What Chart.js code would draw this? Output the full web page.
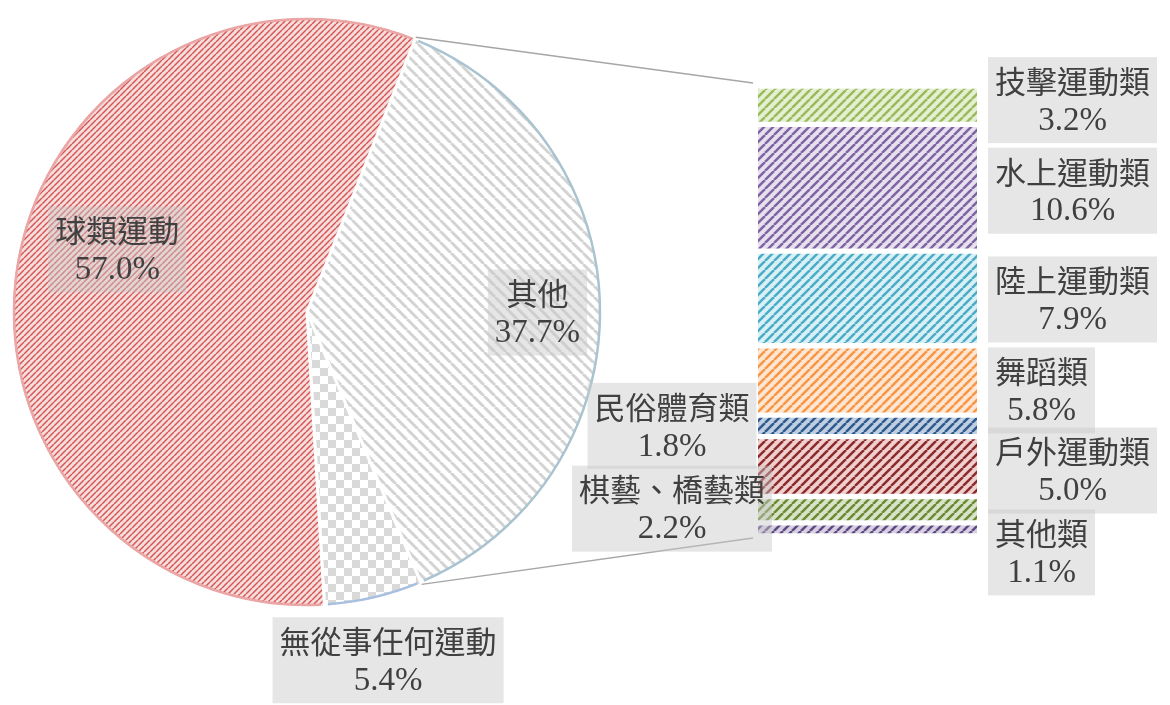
<!DOCTYPE html>
<html>
<head>
<meta charset="utf-8">
<script src="https://cdn.jsdelivr.net/npm/chart.js@4"></script>
<style>
  body { margin: 0; background: #fff; }
  #wrap { position: relative; width: 1170px; height: 705px; }
  #wrap canvas { position: absolute; left: 0; top: 0; }
</style>
</head>
<body>
<div id="wrap">
  <canvas id="pieChart" width="1170" height="705"></canvas>
  <canvas id="barChart" width="1170" height="705"></canvas>
</div>
<script>
// pie: main categories (其他 is split out into the bar)
const sliceLabels = ['其他', '無從事任何運動', '球類運動'];
const sliceValues = [37.7, 5.4, 57.0];

// bar: breakdown of 其他, top to bottom
const barLabels = ['技擊運動類', '水上運動類', '陸上運動類', '舞蹈類', '民俗體育類', '戶外運動類', '棋藝、橋藝類', '其他類'];
const barValues = [3.2, 10.6, 7.9, 5.8, 1.8, 5.0, 2.2, 1.1];

const barLabelSide = ['right', 'right', 'right', 'right', 'left', 'right', 'left', 'right'];
const barLabelShift = [-5, 3, 1, 10, 0, 4, -1, 23];
const pieLabelDist = [0.78, 1.21, 0.65];
const pieLabelShift = [3, 0, -32];

const textColor = '#404040';
const nameFont = '31px "Noto Sans CJK TC", "Noto Sans"';
const pctFont = '33px "Liberation Serif", "Noto Sans CJK TC"';

function stripes(bg, fg, size, w, down) {
    const c = document.createElement('canvas');
    c.width = c.height = size;
    const g = c.getContext('2d');
    g.fillStyle = bg;
    g.fillRect(0, 0, size, size);
    g.strokeStyle = fg;
    g.lineWidth = w;
    g.beginPath();
    for (const o of [-size, 0, size]) {
        if (down) { g.moveTo(o, 0); g.lineTo(o + size, size); }
        else { g.moveTo(o, size); g.lineTo(o + size, 0); }
    }
    g.stroke();
    return g.createPattern(c, 'repeat');
}

function checker(a, b, s) {
    const c = document.createElement('canvas');
    c.width = c.height = s * 2;
    const g = c.getContext('2d');
    g.fillStyle = b;
    g.fillRect(0, 0, s * 2, s * 2);
    g.fillStyle = a;
    g.fillRect(0, 0, s, s);
    g.fillRect(s, s, s, s);
    return g.createPattern(c, 'repeat');
}

const sliceFill = [
    stripes('#ffffff', '#d3d3d3', 11, 3, true),
    checker('#d9d9d9', '#ffffff', 8),
    stripes('#f6dedd', '#d55856', 6, 1.5, false)
];
const sliceEdge = ['#a9c3d0', '#a7bfe0', '#eaa5a4'];

const barFill = [
    stripes('#e4efd4', '#9bbb59', 9, 2.5, false),
    stripes('#e6e0ef', '#8064a2', 9, 2.5, false),
    stripes('#d9f0f6', '#4bacc6', 9, 2.5, false),
    stripes('#fee6d2', '#f79646', 9, 2.5, false),
    stripes('#bfcee2', '#2f5b8c', 9, 2.5, false),
    stripes('#efd0cf', '#8c2b2a', 9, 2.5, false),
    stripes('#d9e3c9', '#6a8a33', 9, 2.5, false),
    stripes('#d7d0e3', '#5f4a80', 9, 2.5, false)
];

function drawLabel(ctx, name, pct, cx, cy) {
    ctx.font = nameFont;
    const w1 = ctx.measureText(name).width;
    ctx.font = pctFont;
    const w2 = ctx.measureText(pct).width;
    const w = Math.max(w1, w2) + 14;
    const h = 86;
    ctx.fillStyle = 'rgba(200,200,200,0.45)';
    ctx.fillRect(cx - w / 2, cy - h / 2, w, h);
    ctx.fillStyle = textColor;
    ctx.textAlign = 'center';
    ctx.textBaseline = 'middle';
    ctx.font = nameFont;
    ctx.fillText(name, cx, cy - 19);
    ctx.font = pctFont;
    ctx.fillText(pct, cx, cy + 21);
}

const pieEdges = {
    id: 'pieEdges',
    afterDatasetsDraw(chart) {
        const ctx = chart.ctx;
        chart.getDatasetMeta(0).data.forEach((el, i) => {
            ctx.save();
            ctx.strokeStyle = sliceEdge[i];
            ctx.lineWidth = 2.5;
            ctx.beginPath();
            ctx.arc(el.x, el.y, el.outerRadius - 2.5, el.startAngle + 0.012, el.endAngle - 0.012);
            ctx.stroke();
            ctx.restore();
        });
    }
};

const pie = new Chart(document.getElementById('pieChart'), {
    type: 'pie',
    data: {
        labels: sliceLabels,
        datasets: [{
            data: sliceValues,
            backgroundColor: sliceFill,
            borderColor: '#ffffff',
            borderWidth: 3,
            hoverOffset: 0
        }]
    },
    options: {
        responsive: false,
        animation: false,
        events: [],
        rotation: 21.6,
        layout: { padding: { left: 10, top: 15, right: 566, bottom: 96 } },
        plugins: { legend: { display: false }, tooltip: { enabled: false } }
    },
    plugins: [pieEdges]
});

const overlay = {
    id: 'overlay',
    afterDraw(chart) {
        const ctx = chart.ctx;
        const arcs = pie.getDatasetMeta(0).data;
        const other = arcs[0];
        const bars = chart.data.datasets.map((d, i) => chart.getDatasetMeta(i).data[0]);
        const first = bars[0], last = bars[bars.length - 1];
        const barLeft = first.x - first.width / 2;
        const barRight = first.x + first.width / 2;
        const barTop = Math.min(first.y, first.base);
        const barBottom = Math.max(last.y, last.base);

        // connector lines
        ctx.save();
        ctx.strokeStyle = '#a6a6a6';
        ctx.lineWidth = 1.5;
        ctx.beginPath();
        ctx.moveTo(other.x + other.outerRadius * Math.cos(other.startAngle), other.y + other.outerRadius * Math.sin(other.startAngle));
        ctx.lineTo(barLeft - 5, barTop - 3);
        ctx.moveTo(other.x + other.outerRadius * Math.cos(other.endAngle), other.y + other.outerRadius * Math.sin(other.endAngle));
        ctx.lineTo(barLeft - 5, barBottom + 2);
        ctx.stroke();

        // pie labels
        arcs.forEach((el, i) => {
            const mid = (el.startAngle + el.endAngle) / 2;
            const r = el.outerRadius * pieLabelDist[i];
            drawLabel(ctx, sliceLabels[i], sliceValues[i].toFixed(1) + '%',
                el.x + r * Math.cos(mid), el.y + r * Math.sin(mid) + pieLabelShift[i]);
        });

        // bar labels
        bars.forEach((el, i) => {
            const cy = (el.y + el.base) / 2 + barLabelShift[i];
            const name = barLabels[i];
            const pct = barValues[i].toFixed(1) + '%';
            let cx;
            if (barLabelSide[i] === 'left') {
                cx = barLeft - 86;
            } else {
                ctx.font = nameFont;
                const w1 = ctx.measureText(name).width;
                ctx.font = pctFont;
                const w2 = ctx.measureText(pct).width;
                cx = barRight + 11 + (Math.max(w1, w2) + 14) / 2;
            }
            drawLabel(ctx, name, pct, cx, cy);
        });
        ctx.restore();
    }
};

const barTotal = barValues.reduce((a, b) => a + b, 0);

new Chart(document.getElementById('barChart'), {
    type: 'bar',
    data: {
        labels: ['其他'],
        datasets: barLabels.map((name, i) => ({
            label: name,
            data: [barValues[i]],
            backgroundColor: barFill[i],
            borderColor: '#ffffff',
            borderWidth: { top: 3, bottom: 3, left: 0, right: 0 },
            borderSkipped: false,
            barPercentage: 1,
            categoryPercentage: 1
        }))
    },
    options: {
        responsive: false,
        animation: false,
        events: [],
        layout: { padding: { left: 758, right: 193, top: 86, bottom: 169 } },
        scales: {
            x: { stacked: true, display: false },
            y: { stacked: true, display: false, reverse: true, min: 0, max: barTotal }
        },
        plugins: { legend: { display: false }, tooltip: { enabled: false } }
    },
    plugins: [overlay]
});
</script>
</body>
</html>
